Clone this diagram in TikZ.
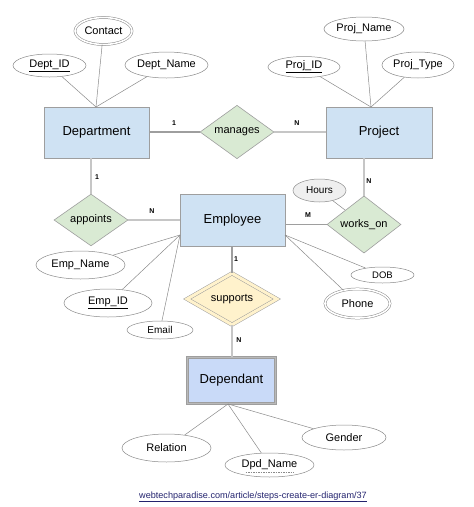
\documentclass[tikz,border=0pt]{standalone}
\usepackage{fontspec}
\setmainfont{Liberation Sans}
\usetikzlibrary{shapes.geometric,calc}
\definecolor{entfill}{HTML}{CFE2F3}
\definecolor{weakfill}{HTML}{C9DAF8}
\definecolor{relfill}{HTML}{D9EAD3}
\definecolor{yelfill}{HTML}{FFF2CC}
\definecolor{hourfill}{HTML}{EFEFEF}
\definecolor{bordergray}{HTML}{9E9E9E}
\definecolor{linegray}{HTML}{8A8A8A}
\definecolor{urlblue}{HTML}{23236E}
\tikzset{
  entity/.style={rectangle, draw=bordergray, fill=entfill, line width=0.8pt, inner sep=0pt, font=\fontsize{13}{15}\selectfont},
  rel/.style={diamond, draw=bordergray, fill=relfill, line width=0.6pt, inner sep=0pt, minimum width=74pt, minimum height=42pt, font=\fontsize{11}{13}\selectfont},
  attr/.style={ellipse, draw=linegray, fill=white, line width=0.5pt, inner sep=0pt, font=\fontsize{11}{13}\selectfont},
  multi/.style={attr, double=white, double distance=1.6pt, draw=linegray},
  card/.style={font=\bfseries\fontsize{7}{8}\selectfont, inner sep=0pt},
  conn/.style={draw=linegray, line width=0.5pt},
  total/.style={draw=bordergray, line width=0.7pt, double=gray!45, double distance=1.1pt},
  single/.style={draw=bordergray, line width=1.1pt}
}
\begin{document}
\begin{tikzpicture}[x=1pt,y=-1pt]
\useasboundingbox (0,0) rectangle (474,507);
% entities
\node[entity, minimum width=105pt, minimum height=51pt] (dept) at (96.5,132.5) {Department};
\node[entity, minimum width=106pt, minimum height=51pt] (proj) at (379,132.5) {Project};
\node[entity, minimum width=105pt, minimum height=52pt] (emp) at (232.5,220) {Employee};
\node[entity, fill=weakfill, draw=bordergray, line width=0.6pt, double=gray!55, double distance=1pt, minimum width=88pt, minimum height=46pt] (dep) at (231.5,380.5) {Dependant};
% relationships
\node[rel] (manages) at (237,132) {manages};
\node[rel] (appoints) at (91,220) {appoints};
\node[rel] (works) at (364,224.5) {works\_on};
\node[rel, fill=yelfill, double=yelfill, double distance=3pt, draw=bordergray, line width=0.5pt, minimum width=90pt, minimum height=50pt] (supports) at (232,299) {supports};
% attributes of Department
\node[multi, minimum width=57pt, minimum height=27pt] (contact) at (103.5,31) {Contact};
\node[attr, minimum width=73pt, minimum height=23pt] (deptid) at (49.5,65.5) {\underline{Dept\_ID}};
\node[attr, minimum width=83pt, minimum height=26pt] (deptname) at (166.5,65) {Dept\_Name};
% attributes of Project
\node[attr, minimum width=80pt, minimum height=24pt] (projname) at (364,29) {Proj\_Name};
\node[attr, minimum width=72pt, minimum height=21pt] (projid) at (304,67) {\underline{Proj\_ID}};
\node[attr, minimum width=72pt, minimum height=26pt] (projtype) at (418,65) {Proj\_Type};
% attributes of works_on
\node[attr, fill=hourfill, minimum width=53pt, minimum height=23pt, font=\fontsize{10}{12}\selectfont] (hours) at (319.5,190.5) {Hours};
% attributes of Employee
\node[attr, minimum width=89pt, minimum height=28pt] (empname) at (80.5,265) {Emp\_Name};
\node[attr, minimum width=88pt, minimum height=28pt] (empid) at (108,303) {\underline{Emp\_ID}};
\node[attr, minimum width=66pt, minimum height=18pt, font=\fontsize{10}{12}\selectfont] (email) at (160,330) {Email};
\node[attr, minimum width=63pt, minimum height=16pt, font=\fontsize{9.5}{11}\selectfont] (dob) at (382.5,275) {DOB};
\node[multi, minimum width=65pt, minimum height=29pt] (phone) at (357.5,303.5) {Phone};
% attributes of Dependant
\node[attr, minimum width=89pt, minimum height=28pt] (relation) at (166.5,448) {Relation};
\node[attr, minimum width=89pt, minimum height=24pt] (dpdname) at (269.5,465) {Dpd\_Name};
\node[attr, minimum width=84pt, minimum height=25pt] (gender) at (344,437.5) {Gender};
\draw[linegray, line width=0.6pt, dash pattern=on 1.5pt off 1pt] ($(dpdname.center)+(-24,7)$) -- ($(dpdname.center)+(24,7)$);
% convergence points
\coordinate (depttop) at (96,107);
\coordinate (projtop) at (371,107);
\coordinate (empleft) at (180,235);
\coordinate (empright) at (285,235);
\coordinate (depbot) at (228,404);
% attribute connectors
\draw[conn] (contact) -- (depttop);
\draw[conn] (deptid) -- (depttop);
\draw[conn] (deptname) -- (depttop);
\draw[conn] (projname) -- (projtop);
\draw[conn] (projid) -- (projtop);
\draw[conn] (projtype) -- (projtop);
\draw[conn] (hours) -- (works);
\draw[conn] (empname) -- (empleft);
\draw[conn] (empid) -- (empleft);
\draw[conn] (email) -- (empleft);
\draw[conn] (dob) -- (empright);
\draw[conn] (phone) -- (empright);
\draw[conn] (relation) -- (depbot);
\draw[conn] (dpdname) -- (depbot);
\draw[conn] (gender) -- (depbot);
% relationship connectors
\draw[single] (dept.east |- manages.west) -- (manages.west);
\draw[total] (manages.east) -- (proj.west |- manages.east);
\draw[total] (dept.south -| appoints.north) -- (appoints.north);
\draw[total] (appoints.east) -- (emp.west |- appoints.east);
\draw[single] (emp.east |- works.west) -- (works.west);
\draw[total] (proj.south -| works.north) -- (works.north);
\draw[single] (emp.south -| supports.north) -- (supports.north);
\draw[total] (supports.south) -- (dep.north -| supports.south);
% cardinalities
\node[card] (c1) at (174,123) {1};
\node[card] (c2) at (297,123) {N};
\node[card] (c3) at (97,177) {1};
\node[card] (c4) at (152,211) {N};
\node[card] (c5) at (308,215) {M};
\node[card] (c6) at (369,181) {N};
\node[card] (c7) at (236,259) {1};
\node[card] (c8) at (239,340) {N};
% source
\node[font=\fontsize{9.1}{11}\selectfont, text=urlblue, inner sep=0pt] (url) at (253,497) {\underline{webtechparadise.com/article/steps-create-er-diagram/37}};
\end{tikzpicture}
\end{document}
